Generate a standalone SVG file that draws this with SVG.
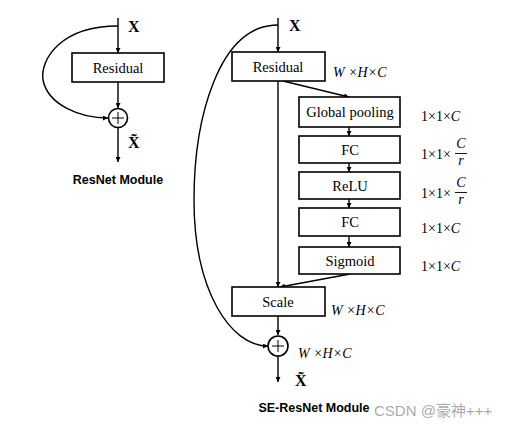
<svg xmlns="http://www.w3.org/2000/svg" width="505" height="429" viewBox="0 0 505 429">
<defs>
<marker id="ah" viewBox="0 0 10 10" refX="10" refY="5" markerWidth="5" markerHeight="5" orient="auto" markerUnits="userSpaceOnUse"><path d="M0,0 L10,5 L0,10 z" fill="#000"/></marker>
<style>
.box{fill:#fff;stroke:#000;stroke-width:1.6}
.ln{fill:none;stroke:#000;stroke-width:1.4;marker-end:url(#ah)}
.lbl{font-family:"Liberation Serif",serif;font-size:14.5px;text-anchor:middle;fill:#000}
.dim{font-family:"Liberation Serif",serif;font-size:14px;fill:#000}
.it{font-style:italic}
.bx{font-family:"Liberation Serif",serif;font-size:16px;font-weight:bold;fill:#000}
.title{font-family:"Liberation Sans",sans-serif;font-size:12.5px;font-weight:bold;text-anchor:middle;fill:#000}
</style>
</defs>
<rect width="505" height="429" fill="#fff"/>
<g id="connectors">
<line x1="118" y1="18" x2="118" y2="53" class="ln"/>
<line x1="118" y1="82" x2="118" y2="108" class="ln"/>
<line x1="118" y1="128" x2="118" y2="162" class="ln"/>
<path d="M118,26 C60,26 40,60 43,80 C48,105 80,118 108,118" class="ln"/>
<line x1="278" y1="18" x2="278" y2="52" class="ln"/>
<line x1="278" y1="81" x2="278" y2="287" class="ln"/>
<line x1="283" y1="81" x2="349" y2="97" class="ln"/>
<line x1="349" y1="127" x2="349" y2="136" class="ln"/>
<line x1="349" y1="163" x2="349" y2="172" class="ln"/>
<line x1="349" y1="199" x2="349" y2="208" class="ln"/>
<line x1="349" y1="236" x2="349" y2="247" class="ln"/>
<line x1="350" y1="274" x2="280" y2="287" class="ln"/>
<line x1="278" y1="316" x2="278" y2="335" class="ln"/>
<line x1="278" y1="356" x2="278" y2="382" class="ln"/>
<path d="M278,25 C218,25 194,120 194,200 C194,290 230,346 268,346" class="ln"/>
</g>
<g id="left-residual"><rect x="72" y="53" width="92" height="29" class="box"/><text x="118" y="73" class="lbl">Residual</text></g>
<g id="left-add"><circle cx="118" cy="118" r="9.5" class="box"/><path d="M112,118 H124 M118,112 V124" stroke="#000" stroke-width="1"/></g>
<g id="left-labels">
<text x="128" y="32" class="bx">X</text>
<text x="128" y="148" class="bx">X̃</text>
<text x="118" y="184" class="title">ResNet Module</text>
</g>
<g id="right-residual"><rect x="232" y="52" width="93" height="29" class="box"/><text x="278" y="72" class="lbl">Residual</text></g>
<g id="global-pooling"><rect x="299" y="97" width="101" height="30" class="box"/><text x="350" y="117" class="lbl">Global pooling</text></g>
<g id="fc1"><rect x="299" y="136" width="101" height="27" class="box"/><text x="350" y="155" class="lbl">FC</text></g>
<g id="relu"><rect x="299" y="172" width="101" height="27" class="box"/><text x="350" y="191" class="lbl">ReLU</text></g>
<g id="fc2"><rect x="299" y="208" width="101" height="28" class="box"/><text x="350" y="227" class="lbl">FC</text></g>
<g id="sigmoid"><rect x="299" y="247" width="101" height="27" class="box"/><text x="350" y="266" class="lbl">Sigmoid</text></g>
<g id="scale"><rect x="232" y="287" width="93" height="29" class="box"/><text x="278" y="307" class="lbl">Scale</text></g>
<g id="right-add"><circle cx="278" cy="346" r="10" class="box"/><path d="M272,346 H284 M278,340 V352" stroke="#000" stroke-width="1"/></g>
<g id="right-labels">
<text x="289" y="31" class="bx">X</text>
<text x="333" y="77" class="dim it">W ×H×C</text>
<text x="421" y="121" class="dim">1×1×<tspan class="it">C</tspan></text>
<text x="421" y="159" class="dim">1×1×</text>
<text x="461" y="148" class="dim it" text-anchor="middle">C</text>
<line x1="455" y1="153.5" x2="467" y2="153.5" stroke="#000" stroke-width="0.9"/>
<text x="461" y="165" class="dim it" text-anchor="middle">r</text>
<text x="421" y="198" class="dim">1×1×</text>
<text x="461" y="187" class="dim it" text-anchor="middle">C</text>
<line x1="455" y1="192.5" x2="467" y2="192.5" stroke="#000" stroke-width="0.9"/>
<text x="461" y="204" class="dim it" text-anchor="middle">r</text>
<text x="421" y="233" class="dim">1×1×<tspan class="it">C</tspan></text>
<text x="421" y="271" class="dim">1×1×<tspan class="it">C</tspan></text>
<text x="331" y="315" class="dim it">W ×H×C</text>
<text x="298" y="358" class="dim it">W ×H×C</text>
<text x="295" y="386" class="bx">X̃</text>
<text x="314" y="412" class="title">SE-ResNet Module</text>
</g>
<text x="374" y="416" font-family="'Liberation Sans','Noto Sans CJK SC',sans-serif" font-size="15" fill="#9a9a9a" fill-opacity="0.85">CSDN @豪神+++</text>
</svg>
